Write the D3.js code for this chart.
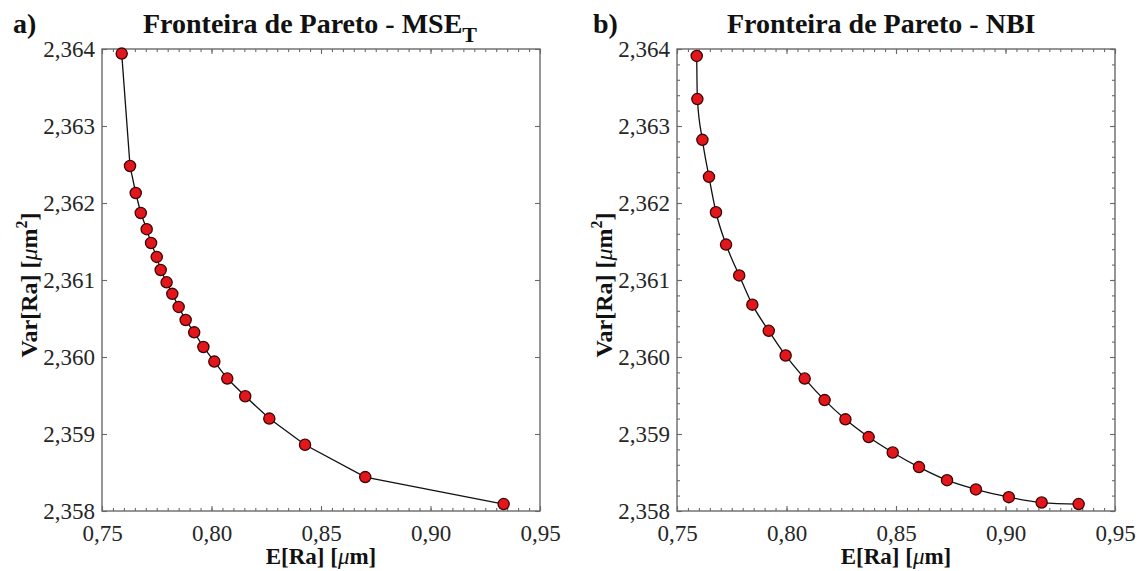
<!DOCTYPE html>
<html>
<head>
<meta charset="utf-8">
<script src="https://cdn.jsdelivr.net/npm/d3@7"></script>
<style>
  html, body { margin: 0; padding: 0; background: #fff; }
  svg { display: block; }
</style>
</head>
<body>
<svg id="chart" width="1143" height="571"></svg>
<script>
// ---- Data ----
const mseE = [0.7590, 0.7628, 0.7654, 0.7677, 0.7704, 0.7724, 0.7750, 0.7768, 0.7795, 0.7821,
              0.7850, 0.7882, 0.7921, 0.7963, 0.8013, 0.8072, 0.8154, 0.8264, 0.8427, 0.8702, 0.9334];
const mseVar = [2.36394, 2.36248, 2.36213, 2.36187, 2.36166, 2.36148, 2.36130, 2.36113, 2.36097, 2.36082,
                2.36065, 2.36048, 2.36032, 2.36013, 2.35994, 2.35972, 2.35949, 2.35920, 2.35886, 2.35844, 2.35809];
const nbiE = [0.7590, 0.7593, 0.7616, 0.7646, 0.7678, 0.7724, 0.7784, 0.7844, 0.7919, 0.7996,
              0.8083, 0.8174, 0.8269, 0.8375, 0.8485, 0.8605, 0.8733, 0.8865, 0.9015, 0.9165, 0.9334];
const nbiVar = [2.36391, 2.36335, 2.36282, 2.36234, 2.36188, 2.36146, 2.36106, 2.36068, 2.36034, 2.36002,
                2.35972, 2.35944, 2.35919, 2.35896, 2.35876, 2.35857, 2.35840, 2.35828, 2.35818, 2.35811, 2.35809];
const xTicks = [0.75, 0.80, 0.85, 0.90, 0.95];
const yTicks = [2.358, 2.359, 2.360, 2.361, 2.362, 2.363, 2.364];
const xDomain = [0.75, 0.95];
const yDomain = [2.358, 2.364];

// ---- Rendering ----
const FONT = '"Liberation Serif"';
const loc = d3.formatLocale({decimal: ",", thousands: ".", grouping: [3], currency: ["", ""]});
const fx = loc.format(".2f");
const fy = loc.format(".3f");

const svg = d3.select("#chart");
const yTop = 49, yBot = 511;
const frameColor = "#6a6a6a";

const panels = [
  {tag: "a)", title: "Fronteira de Pareto - MSE", sub: "T", E: mseE, V: mseVar,
   x0: 102, x1: 540, yMinor: false, curve: d3.curveLinear, tagX: 13, titleX: 143},
  {tag: "b)", title: "Fronteira de Pareto - NBI", sub: null, E: nbiE, V: nbiVar,
   x0: 677, x1: 1115, yMinor: true, curve: d3.curveMonotoneX, tagX: 593, titleX: 727}
];

function txt(sel, size, bold) {
  return sel.style("font-family", FONT).style("font-size", size + "px")
            .style("font-weight", bold ? "bold" : "normal").attr("fill", "#111");
}

panels.forEach(p => {
  const x = d3.scaleLinear().domain(xDomain).range([p.x0, p.x1]);
  const y = d3.scaleLinear().domain(yDomain).range([yBot, yTop]);
  const g = svg.append("g");

  const styleAxis = sel => {
    sel.attr("font-family", null);
    sel.select(".domain").remove();
    sel.selectAll(".tick line").attr("stroke", frameColor).attr("stroke-width", 1.1);
    sel.selectAll(".tick text").call(t => txt(t, 23, false)).attr("fill", "#262626");
  };

  // minor ticks
  const xMinor = x.ticks(40);
  g.append("g").attr("transform", `translate(0,${yBot})`)
    .call(d3.axisBottom(x).tickValues(xMinor).tickSize(-3).tickFormat("")).call(styleAxis);
  g.append("g").attr("transform", `translate(0,${yTop})`)
    .call(d3.axisTop(x).tickValues(xMinor).tickSize(-3).tickFormat("")).call(styleAxis);
  if (p.yMinor) {
    const yMinor = y.ticks(30);
    g.append("g").attr("transform", `translate(${p.x0},0)`)
      .call(d3.axisLeft(y).tickValues(yMinor).tickSize(-3).tickFormat("")).call(styleAxis);
    g.append("g").attr("transform", `translate(${p.x1},0)`)
      .call(d3.axisRight(y).tickValues(yMinor).tickSize(-3).tickFormat("")).call(styleAxis);
  }

  // major ticks
  g.append("g").attr("transform", `translate(0,${yBot})`)
    .call(d3.axisBottom(x).tickValues(xTicks).tickSize(-5).tickPadding(14).tickFormat(fx)).call(styleAxis);
  g.append("g").attr("transform", `translate(0,${yTop})`)
    .call(d3.axisTop(x).tickValues(xTicks).tickSize(-5).tickFormat("")).call(styleAxis);
  g.append("g").attr("transform", `translate(${p.x0},0)`)
    .call(d3.axisLeft(y).tickValues(yTicks).tickSize(-5).tickPadding(7).tickFormat(fy)).call(styleAxis);
  g.append("g").attr("transform", `translate(${p.x1},0)`)
    .call(d3.axisRight(y).tickValues(yTicks).tickSize(-5).tickFormat("")).call(styleAxis);

  // frame
  g.append("rect").attr("x", p.x0).attr("y", yTop)
    .attr("width", p.x1 - p.x0).attr("height", yBot - yTop)
    .attr("fill", "none").attr("stroke", frameColor).attr("stroke-width", 1.4);

  // line
  const pts = p.E.map((e, i) => [e, p.V[i]]);
  g.append("path").datum(pts)
    .attr("fill", "none").attr("stroke", "#111").attr("stroke-width", 1.3)
    .attr("d", d3.line().x(d => x(d[0])).y(d => y(d[1])).curve(p.curve));

  // markers
  g.selectAll("circle.pt").data(pts).join("circle")
    .attr("class", "pt")
    .attr("cx", d => x(d[0])).attr("cy", d => y(d[1])).attr("r", 5.6)
    .attr("fill", "#e3161b").attr("stroke", "#3a0505").attr("stroke-width", 1.3);

  // panel tag
  g.append("text").attr("x", p.tagX).attr("y", 33).call(t => txt(t, 28, true)).text(p.tag);

  // title
  const t = g.append("text").attr("x", p.titleX).attr("y", 33).call(s => txt(s, 28, true));
  t.append("tspan").text(p.title);
  if (p.sub) t.append("tspan").attr("dy", 9).style("font-size", "22px").text(p.sub);

  // x axis title
  const cx = (p.x0 + p.x1) / 2;
  const xt = g.append("text").attr("x", cx).attr("y", 564).attr("text-anchor", "middle")
    .call(s => txt(s, 23, true));
  xt.append("tspan").text("E[Ra] [");
  xt.append("tspan").style("font-style", "italic").style("font-weight", "normal").text("μ");
  xt.append("tspan").text("m]");

  // y axis title
  const yt = g.append("text")
    .attr("transform", `translate(${p.x0 - 65},285) rotate(-90)`)
    .attr("text-anchor", "middle")
    .call(s => txt(s, 24, true));
  yt.append("tspan").text("Var[Ra] [");
  yt.append("tspan").style("font-style", "italic").style("font-weight", "normal").text("μ");
  yt.append("tspan").text("m");
  yt.append("tspan").attr("dy", -10).style("font-size", "16px").text("2");
  yt.append("tspan").attr("dy", 10).text("]");
});
</script>
</body>
</html>
